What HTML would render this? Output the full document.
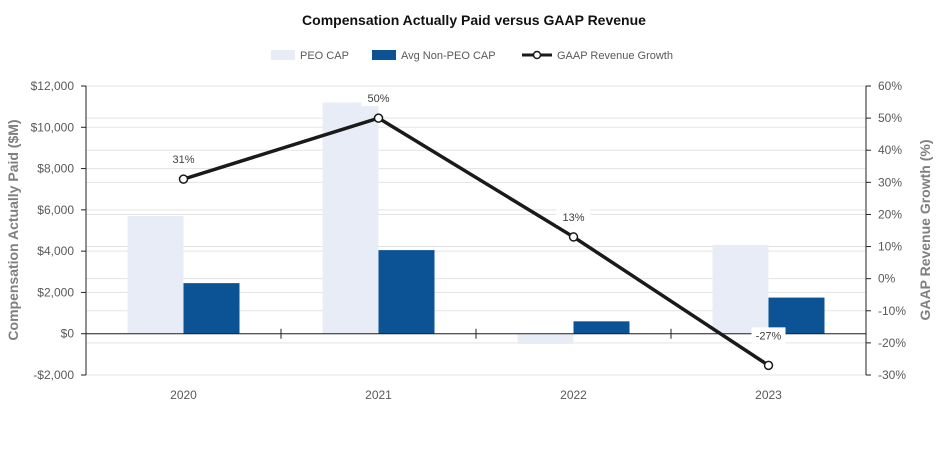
<!DOCTYPE html>
<html><head><meta charset="utf-8"><style>
body{margin:0;background:#fff;font-family:"Liberation Sans",sans-serif}
svg text{font-family:"Liberation Sans",sans-serif}
</style></head><body>
<svg id="chart" width="948" height="448" xmlns="http://www.w3.org/2000/svg">
<text x="474" y="25" text-anchor="middle" font-size="14" font-weight="bold" fill="#111">Compensation Actually Paid versus GAAP Revenue</text>
<g>
<rect x="271" y="50" width="24" height="10" fill="#e8ecf6"/>
<text x="300" y="59" font-size="11" fill="#595959">PEO CAP</text>
<rect x="372" y="50" width="24" height="10" fill="#0b5394"/>
<text x="401" y="59" font-size="11" fill="#595959">Avg Non-PEO CAP</text>
<line x1="522" y1="55" x2="552" y2="55" stroke="#1a1a1a" stroke-width="3"/>
<circle cx="537" cy="55" r="3.5" fill="#fff" stroke="#1a1a1a" stroke-width="1.5"/>
<text x="557" y="59" font-size="11" fill="#595959">GAAP Revenue Growth</text>
</g>
<text transform="translate(18,230) rotate(-90)" text-anchor="middle" font-size="14" font-weight="bold" fill="#7f7f7f">Compensation Actually Paid ($M)</text>
<text transform="translate(930,230) rotate(-90)" text-anchor="middle" font-size="14" font-weight="bold" fill="#7f7f7f">GAAP Revenue Growth (%)</text>
<g id="grid"></g><g id="bars"></g><g id="axes"></g><g id="line"></g>
</svg>
<script>
const categories=["2020","2021","2022","2023"];
const peoCap=[5700,11200,-500,4300];
const nonPeoCap=[2450,4050,600,1750];
const growth=[31,50,13,-27];
const leftTicks=[-2000,0,2000,4000,6000,8000,10000,12000];
const rightTicks=[-30,-20,-10,0,10,20,30,40,50,60];
const NS="http://www.w3.org/2000/svg";
const X0=86,X1=866,Y0=86,Y1=375;
const yL=v=>Y1-(v+2000)/14000*(Y1-Y0);
const yR=v=>Y1-(v+30)/90*(Y1-Y0);
const bw=(X1-X0)/categories.length;
const xC=i=>X0+bw*(i+0.5);
function mk(tag,attrs,parent,txt){const e=document.createElementNS(NS,tag);for(const k in attrs)e.setAttribute(k,attrs[k]);if(txt!==undefined)e.textContent=txt;document.getElementById(parent).appendChild(e);return e;}
const fmt=v=>(v<0?"-$":"$")+Math.abs(v).toLocaleString("en-US");
leftTicks.forEach(t=>{
 const l=mk("line",{x1:X0,x2:X1,y1:yL(t),y2:yL(t),stroke:"#e3e3e3"},"grid");
 
 
 mk("line",{x1:X0-5,x2:X0,y1:yL(t),y2:yL(t),stroke:"#222"},"axes");
 const tx=mk("text",{x:X0-12,y:yL(t)+4,"text-anchor":"end","font-size":"12",fill:"#595959"},"axes",fmt(t));
 
 
});
rightTicks.forEach(t=>{
 const l=mk("line",{x1:X0,x2:X1,y1:yR(t),y2:yR(t),stroke:"#e3e3e3"},"grid");
 
 
 mk("line",{x1:X1,x2:X1+5,y1:yR(t),y2:yR(t),stroke:"#222"},"axes");
 const tx=mk("text",{x:X1+12,y:yR(t)+4,"font-size":"12",fill:"#595959"},"axes",t+"%");
 
 
});
mk("line",{x1:X0,x2:X0,y1:Y0,y2:Y1,stroke:"#222"},"axes");
mk("line",{x1:X1,x2:X1,y1:Y0,y2:Y1,stroke:"#222"},"axes");
mk("line",{x1:X0,x2:X1,y1:yL(0),y2:yL(0),stroke:"#222"},"axes");
for(let i=1;i<categories.length;i++){mk("line",{x1:X0+bw*i,x2:X0+bw*i,y1:yL(0)-5,y2:yL(0)+5,stroke:"#222"},"axes");}
const barW=56;
categories.forEach((c,i)=>{
 const cx=xC(i);
 const b1=mk("rect",{x:cx-barW,y:Math.min(yL(0),yL(peoCap[i])),width:barW,height:Math.abs(yL(peoCap[i])-yL(0)),fill:"#e8ecf6"},"bars");
 
 
 const b2=mk("rect",{x:cx,y:Math.min(yL(0),yL(nonPeoCap[i])),width:barW,height:Math.abs(yL(nonPeoCap[i])-yL(0)),fill:"#0b5394"},"bars");
 
 
 const t=mk("text",{x:cx,y:Y1+24,"text-anchor":"middle","font-size":"12",fill:"#595959"},"axes",c);
 
 
});
const pl=mk("polyline",{points:growth.map((g,i)=>xC(i)+","+yR(g)).join(" "),fill:"none",stroke:"#1a1a1a","stroke-width":"3.5"},"line");


growth.forEach((g,i)=>{
 const p=mk("circle",{cx:xC(i),cy:yR(g),r:4,fill:"#fff",stroke:"#1a1a1a","stroke-width":"1.5"},"line");
 
 
 const ly=yR(g)-(g<0?-29:16)-(g<0?60:0)*0;
 const labY=g<0?yR(g)-26:yR(g)-16;
 mk("rect",{x:xC(i)-17,y:labY-12,width:34,height:16,fill:"#fff"},"line");
 const t=mk("text",{x:xC(i),y:labY,"text-anchor":"middle","font-size":"11",fill:"#404040"},"line",g+"%");
 
 
});
</script>
</body></html>
